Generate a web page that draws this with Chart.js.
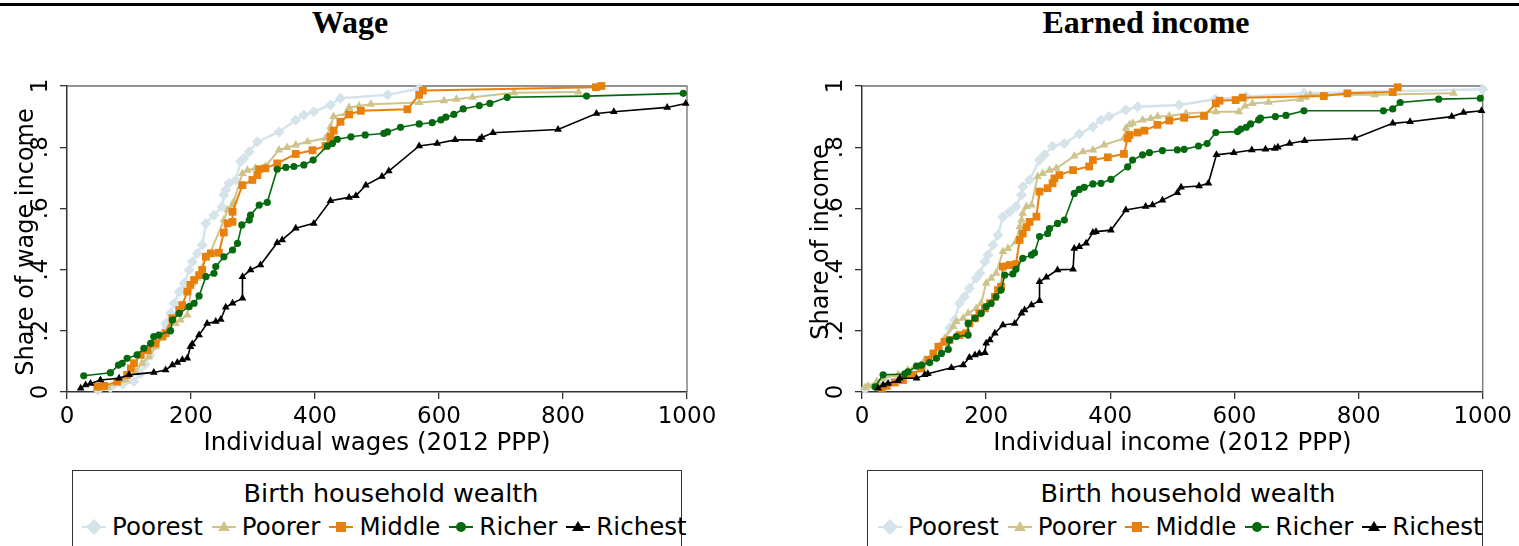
<!DOCTYPE html>
<html>
<head>
<meta charset="utf-8">
<script src="https://cdn.jsdelivr.net/npm/chart.js@4.4.1/dist/chart.umd.min.js"></script>
<style>
  body { margin:0; width:1519px; height:546px; position:relative; overflow:hidden; background:#fff; }
  .rule { position:absolute; left:0; top:3px; width:1519px; height:3px; background:#000; }
  .ttl { position:absolute; top:6px; transform:translateX(-50%); font:bold 32px/32px "Liberation Serif", serif; color:#000; white-space:nowrap; }
  canvas { position:absolute; }
  .box { position:absolute; top:470px; height:120px; border:1.5px solid #333; box-sizing:border-box; }
  .ktitle { position:absolute; top:481px; transform:translateX(-50%); font:25.5px/25px "DejaVu Sans", sans-serif; white-space:nowrap; }
  .krow { position:absolute; top:514px; display:flex; align-items:center; font:24.5px/25px "DejaVu Sans", sans-serif; white-space:nowrap; }
  .krow svg { margin-right:6px; }
  .krow span { margin-right:9px; }
</style>
</head>
<body>
<div class="rule"></div>
<div class="ttl" style="left:350px">Wage</div>
<div class="ttl" style="left:1146px">Earned income</div>
<canvas id="wage" width="740" height="405" style="left:0;top:60px"></canvas>
<canvas id="earned" width="724" height="405" style="left:795px;top:60px"></canvas>
<div id="keys"></div>
<script>
'use strict'

const groups = ['Poorest','Poorer','Middle','Richer','Richest']
const yTicks = [0, .2, .4, .6, .8, 1]
const yTickLabels = ['0','.2','.4','.6','.8','1']

// wage panel: [individual wage, share of wage income]
const wagePoorest = [[50,.006],[70,.014],[90,.025],[108,.034],[118,.06],[126,.09],[134,.12],[141,.15],[148,.181],[159,.224],[167,.257],[173,.29],[181,.328],[189,.355],[197,.399],[202,.426],[210,.453],[218,.48],[224,.551],[237,.578],[250,.605],[253,.644],[256,.66],[261,.682],[272,.693],[280,.753],[285,.763],[294,.785],[307,.818],[342,.85],[369,.889],[382,.905],[398,.916],[425,.938],[441,.96],[517,.971],[568,.992]]
const wagePoorer = [[57,.012],[65,.016],[95,.039],[111,.066],[121,.094],[132,.115],[143,.148],[154,.181],[165,.214],[175,.224],[183,.235],[194,.252],[202,.355],[210,.372],[224,.442],[230,.45],[253,.562],[259,.595],[267,.611],[269,.622],[283,.714],[291,.725],[304,.731],[320,.737],[342,.791],[355,.799],[369,.807],[388,.818],[417,.829],[425,.867],[430,.9],[450,.91],[455,.93],[471,.935],[490,.94],[568,.946],[608,.952],[628,.957],[654,.963],[721,.978],[825,.98]]
const wageMiddle = [[49,.017],[60,.02],[81,.034],[97,.056],[103,.077],[108,.094],[119,.121],[130,.137],[143,.159],[154,.181],[159,.192],[170,.241],[181,.268],[186,.284],[194,.328],[199,.35],[205,.366],[213,.382],[218,.399],[224,.442],[232,.453],[245,.455],[253,.521],[259,.551],[267,.556],[267,.589],[283,.676],[299,.693],[307,.709],[310,.728],[320,.731],[339,.747],[369,.778],[396,.79],[417,.804],[425,.834],[430,.854],[441,.883],[455,.907],[474,.919],[549,.924],[568,.971],[574,.985],[853,.996],[862,1]]
const wageRicher = [[27,.053],[70,.063],[83,.088],[89,.094],[97,.11],[113,.121],[124,.143],[135,.159],[140,.181],[148,.186],[167,.2],[170,.235],[181,.257],[197,.279],[205,.29],[213,.314],[224,.377],[237,.388],[240,.41],[253,.442],[267,.464],[275,.486],[282,.546],[294,.562],[296,.578],[310,.611],[323,.62],[339,.728],[353,.734],[366,.737],[382,.742],[397,.758],[420,.804],[428,.812],[436,.826],[458,.834],[481,.84],[511,.845],[517,.85],[538,.865],[568,.876],[589,.88],[603,.889],[611,.898],[624,.907],[639,.925],[665,.936],[682,.943],[710,.963],[838,.967],[994,.976]]
const wageRichest = [[22,.012],[30,.023],[38,.028],[54,.039],[84,.045],[100,.056],[140,.064],[159,.072],[170,.088],[178,.096],[186,.105],[194,.11],[199,.148],[202,.157],[213,.186],[226,.224],[240,.23],[248,.237],[256,.277],[267,.29],[283,.306],[283,.377],[296,.399],[312,.415],[339,.488],[347,.497],[369,.535],[398,.551],[425,.625],[455,.636],[466,.641],[482,.676],[508,.704],[519,.722],[568,.804],[597,.812],[626,.824],[665,.824],[669,.832],[687,.847],[792,.858],[854,.91],[882,.916],[968,.93],[998,.943]]

// earned income panel: [individual income, share of income]
const earnPoorest = [[5,.01],[30,.025],[60,.05],[90,.08],[110,.11],[125,.15],[141,.208],[149,.235],[157,.29],[165,.311],[173,.339],[184,.372],[190,.388],[198,.426],[203,.448],[211,.48],[219,.513],[227,.573],[238,.589],[248,.606],[257,.644],[259,.671],[270,.693],[286,.758],[294,.775],[307,.804],[326,.812],[350,.843],[372,.867],[385,.889],[398,.9],[425,.922],[444,.932],[511,.938],[569,.957],[619,.965],[712,.976],[1000,.989]]
const earnPoorer = [[5,.015],[10,.02],[24,.034],[34,.045],[58,.056],[74,.072],[85,.083],[101,.105],[115,.121],[125,.148],[133,.175],[147,.214],[152,.23],[163,.241],[171,.257],[184,.273],[192,.29],[200,.355],[208,.372],[216,.388],[227,.459],[235,.469],[248,.491],[254,.54],[257,.562],[259,.584],[265,.606],[273,.611],[283,.704],[291,.714],[302,.725],[313,.731],[342,.771],[356,.785],[372,.791],[390,.807],[422,.829],[425,.862],[431,.873],[436,.878],[452,.889],[465,.894],[476,.9],[495,.902],[522,.91],[570,.916],[607,.916],[617,.935],[629,.943],[655,.947],[706,.957],[715,.963],[722,.971],[826,.971],[953,.976]]
const earnMiddle = [[32,.012],[40,.02],[53,.031],[66,.039],[82,.056],[96,.077],[107,.105],[115,.126],[123,.148],[133,.164],[141,.17],[157,.186],[168,.192],[173,.224],[182,.241],[189,.257],[198,.273],[206,.29],[214,.311],[219,.333],[224,.344],[227,.41],[238,.415],[248,.418],[254,.497],[259,.518],[265,.539],[270,.556],[281,.573],[286,.655],[299,.666],[307,.682],[310,.698],[318,.709],[340,.725],[366,.737],[372,.758],[396,.767],[422,.778],[428,.829],[431,.84],[444,.848],[455,.854],[476,.873],[495,.887],[519,.896],[551,.902],[570,.943],[576,.952],[602,.954],[613,.962],[744,.967],[782,.976],[855,.98],[863,.996]]
const earnRicher = [[21,.017],[34,.056],[69,.059],[74,.066],[88,.085],[96,.088],[109,.096],[120,.11],[128,.126],[139,.139],[141,.17],[152,.181],[171,.186],[171,.224],[182,.241],[192,.257],[200,.279],[208,.29],[216,.311],[224,.333],[230,.382],[243,.386],[248,.401],[259,.437],[273,.448],[278,.455],[286,.508],[299,.518],[302,.534],[315,.551],[326,.562],[342,.649],[350,.662],[358,.669],[372,.68],[385,.682],[401,.695],[428,.736],[436,.758],[452,.775],[463,.782],[484,.789],[508,.791],[519,.793],[542,.804],[556,.812],[570,.848],[605,.851],[610,.859],[619,.865],[626,.876],[639,.889],[642,.895],[666,.9],[683,.904],[712,.919],[840,.919],[855,.925],[867,.946],[929,.957],[996,.96]]
const earnRichest = [[26,.012],[34,.023],[42,.028],[58,.037],[61,.045],[88,.045],[101,.056],[106,.06],[144,.079],[163,.088],[173,.113],[182,.121],[189,.126],[198,.128],[200,.159],[206,.17],[214,.192],[227,.219],[246,.224],[257,.257],[262,.268],[273,.284],[286,.298],[286,.36],[297,.375],[315,.399],[340,.401],[342,.469],[350,.475],[361,.486],[372,.521],[377,.524],[401,.529],[425,.595],[457,.606],[468,.611],[484,.627],[508,.651],[514,.669],[543,.673],[558,.682],[571,.775],[599,.782],[628,.791],[650,.793],[665,.796],[670,.8],[689,.812],[713,.821],[794,.829],[855,.878],[883,.883],[950,.9],[969,.913],[998,.919]]

// look of each group (same order as groups)
const looks = [
  {color:'#d5e3ea', shape:'rectRot', r:5.5, w:2.5},
  {color:'#cec48b', shape:'triangle', r:5, w:2},
  {color:'#e8800c', shape:'rect', r:5.5, w:2},
  {color:'#056a0f', shape:'circle', r:3.6, w:1.6},
  {color:'#000000', shape:'triangle', r:4.5, w:1.6}
]

const font = 'DejaVu Sans'

const frame = {
  id: 'frame',
  beforeDatasetsDraw(chart) {
    const {ctx, chartArea: a} = chart
    ctx.save()
    ctx.strokeStyle = '#707070'
    ctx.lineWidth = 1.3
    ctx.beginPath()
    ctx.moveTo(a.left, a.top)
    ctx.lineTo(a.right, a.top)
    ctx.lineTo(a.right, a.bottom)
    ctx.stroke()
    ctx.restore()
  }
}

// stata style y axis: labels turned sideways, title on top of them
const yText = {
  id: 'yText',
  afterDraw(chart, args, opts) {
    const {ctx, chartArea: a, scales: {y}} = chart
    ctx.save()
    ctx.fillStyle = '#000'
    ctx.textAlign = 'center'
    ctx.textBaseline = 'alphabetic'
    ctx.font = '23px "' + font + '"'
    yTicks.forEach((v, i) => {
      ctx.save()
      ctx.translate(a.left - 20, y.getPixelForValue(v))
      ctx.rotate(-Math.PI / 2)
      ctx.fillText(yTickLabels[i], 0, 0)
      ctx.restore()
    })
    ctx.font = '24px "' + font + '"'
    ctx.translate(a.left - 34, (a.top + a.bottom) / 2 + 3)
    ctx.rotate(-Math.PI / 2)
    ctx.fillText(opts.title, 0, 0)
    ctx.restore()
  }
}

function makeChart(id, series, xTitle, yTitle, padRight) {
  const datasets = series.map((pts, i) => ({
    label: groups[i],
    data: pts.map(p => ({x: p[0], y: p[1]})),
    borderColor: looks[i].color,
    backgroundColor: looks[i].color,
    pointBackgroundColor: looks[i].color,
    pointBorderColor: looks[i].color,
    pointStyle: looks[i].shape,
    pointRadius: looks[i].r,
    pointBorderWidth: 0,
    borderWidth: looks[i].w,
    tension: 0,
    clip: false,
    order: 5 - i
  }))
  return new Chart(document.getElementById(id), {
    type: 'line',
    data: {datasets},
    options: {
      responsive: false,
      animation: false,
      devicePixelRatio: 1,
      layout: {padding: {top: 26, right: padRight, left: 0, bottom: 0}},
      plugins: {legend: {display: false}, tooltip: {enabled: false}, yText: {title: yTitle}},
      scales: {
        x: {
          type: 'linear', min: 0, max: 1000,
          afterFit: s => { s.height = 73 },
          border: {color: '#333', width: 1.5},
          grid: {drawOnChartArea: false, tickLength: 7, color: '#333', lineWidth: 1.3},
          ticks: {stepSize: 200, maxRotation: 0, autoSkip: false, padding: 7, color: '#000',
                  callback: v => String(v),
                  font: {family: font, size: 23, lineHeight: 1}},
          title: {display: true, text: xTitle, color: '#000', padding: {top: 0, bottom: 9},
                  font: {family: font, size: 24.5, lineHeight: 1}}
        },
        y: {
          min: 0, max: 1,
          afterFit: s => { s.width = 67 },
          border: {color: '#333', width: 1.5},
          grid: {drawOnChartArea: false, tickLength: 7, color: '#333', lineWidth: 1.3},
          ticks: {stepSize: .2, display: false}
        }
      }
    },
    plugins: [frame, yText]
  })
}

makeChart('wage', [wagePoorest, wagePoorer, wageMiddle, wageRicher, wageRichest],
  'Individual wages (2012 PPP)', 'Share of wage income', 53)
makeChart('earned', [earnPoorest, earnPoorer, earnMiddle, earnRicher, earnRichest],
  'Individual income (2012 PPP)', 'Share of income', 35)

// legends
function symbol(look) {
  const c = look.color
  let m
  if (look.shape === 'rectRot') m = '<polygon points="12,2 20,10 12,18 4,10" fill="' + c + '"/>'
  else if (look.shape === 'triangle') m = '<polygon points="12,4 18,14 6,14" fill="' + c + '"/>'
  else if (look.shape === 'rect') m = '<rect x="7" y="5" width="10" height="10" fill="' + c + '"/>'
  else m = '<circle cx="12" cy="10" r="5" fill="' + c + '"/>'
  return '<svg width="24" height="20" viewBox="0 0 24 20"><line x1="0" y1="10" x2="24" y2="10" stroke="' + c +
    '" stroke-width="2"/>' + m + '</svg>'
}

function makeKey(boxLeft, boxWidth, titleCenter, rowLeft) {
  const keys = document.getElementById('keys')
  let html = '<div class="box" style="left:' + boxLeft + 'px;width:' + boxWidth + 'px"></div>'
  html += '<div class="ktitle" style="left:' + titleCenter + 'px">Birth household wealth</div>'
  html += '<div class="krow" style="left:' + rowLeft + 'px">'
  groups.forEach((g, i) => { html += symbol(looks[i]) + '<span>' + g + '</span>' })
  html += '</div>'
  keys.insertAdjacentHTML('beforeend', html)
}
makeKey(72, 610, 391, 82)
makeKey(867, 616, 1188, 878)
</script>
</body>
</html>
